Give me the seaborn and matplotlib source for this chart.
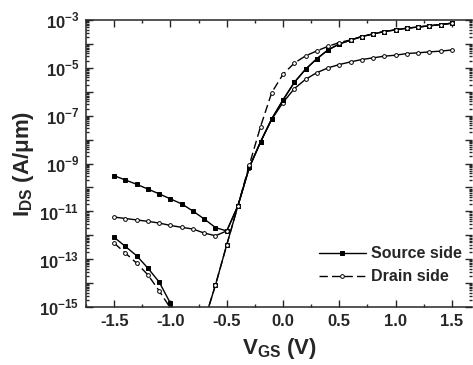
import numpy as np
import matplotlib
matplotlib.use("Agg")
import matplotlib.pyplot as plt
from matplotlib.ticker import LogLocator, FuncFormatter, MultipleLocator, NullFormatter
import seaborn as sns

# === Datos (log10 de I_DS en A/um) ===
vgs = [-1.5, -1.4, -1.3, -1.2, -1.1, -1.0, -0.9, -0.8, -0.7, -0.6, -0.5,
       -0.4, -0.3, -0.2, -0.1, 0.0, 0.1, 0.2, 0.3, 0.4, 0.5,
       0.6, 0.7, 0.8, 0.9, 1.0, 1.1, 1.2, 1.3, 1.4, 1.5]

# lado fuente, corriente de fuga alta
log_src_alto = [-9.51, -9.69, -9.87, -10.07, -10.27, -10.48, -10.69, -10.99, -11.32, -11.68, -11.82,
                -10.76, -9.16, -8.10, -7.13, -6.34, -5.61, -5.06, -4.62, -4.25, -4.00,
                -3.84, -3.69, -3.58, -3.48, -3.41, -3.34, -3.29, -3.24, -3.19, -3.13]
# lado drenador, fuga media, corriente on baja
log_drn_medio = [-11.24, -11.30, -11.36, -11.42, -11.49, -11.59, -11.67, -11.74, -11.91, -12.02, -11.82,
                 -10.76, -9.18, -8.10, -7.15, -6.45, -5.87, -5.48, -5.20, -5.00, -4.86,
                 -4.75, -4.65, -4.58, -4.51, -4.47, -4.40, -4.37, -4.33, -4.30, -4.25]
# lado fuente, fuga baja
log_src_bajo = [-12.09, -12.47, -12.86, -13.38, -13.96, -14.85, -16.00, -16.30, -15.60, -14.08, -12.40,
                -10.76, -9.16, -8.10, -7.13, -6.34, -5.61, -5.06, -4.62, -4.25, -4.00,
                -3.84, -3.69, -3.58, -3.48, -3.41, -3.34, -3.29, -3.24, -3.19, -3.13]
# lado drenador, fuga baja
log_drn_bajo = [-12.33, -12.75, -13.17, -13.66, -14.33, -15.05, -16.00, -16.30, -15.60, -14.08, -12.40,
                -10.76, -9.07, -7.46, -6.03, -5.27, -4.80, -4.50, -4.29, -4.10, -3.94,
                -3.83, -3.69, -3.58, -3.48, -3.41, -3.34, -3.29, -3.24, -3.19, -3.13]

sns.set_style("ticks")
plt.rcParams["font.family"] = ["Liberation Sans", "DejaVu Sans"]
plt.rcParams["font.weight"] = "bold"
plt.rcParams["mathtext.fontset"] = "custom"
plt.rcParams["mathtext.rm"] = "Liberation Sans:bold"
plt.rcParams["mathtext.bf"] = "Liberation Sans:bold"
plt.rcParams["axes.unicode_minus"] = False

fig = plt.figure(figsize=(4.73, 3.65), dpi=100)
ax = fig.add_axes([0.182, 0.159, 0.816, 0.786])

x = np.array(vgs)
comun = dict(ax=ax, color="k", linewidth=1.0, markersize=2.7,
             markeredgecolor="k", markeredgewidth=0.7, errorbar=None)

sns.lineplot(x=x, y=10 ** np.array(log_src_alto), marker="s",
             markerfacecolor="k", **comun)
sns.lineplot(x=x, y=10 ** np.array(log_drn_medio), marker="o",
             markerfacecolor="white", **comun)
sns.lineplot(x=x, y=10 ** np.array(log_src_bajo), marker="s",
             markerfacecolor="k", label="Source side", **comun)
sns.lineplot(x=x, y=10 ** np.array(log_drn_bajo), marker="o", linestyle=(0, (6, 3)),
             markerfacecolor="white", label="Drain side", **comun)

ax.set_yscale("log")
ax.set_xlim(-1.75, 1.68)
ax.set_ylim(1e-15, 1e-3)

ax.yaxis.set_major_locator(LogLocator(base=10, numticks=20))
ax.yaxis.set_minor_locator(LogLocator(base=10, subs=np.arange(2, 10), numticks=20))
ax.yaxis.set_minor_formatter(NullFormatter())


def fmt_y(v, pos):
    e = int(round(np.log10(v)))
    if e % 2 == 0:
        return ""
    return r"10$^{\mathbf{%d}}$" % e


ax.yaxis.set_major_formatter(FuncFormatter(fmt_y))
ax.xaxis.set_major_locator(MultipleLocator(0.5))
ax.xaxis.set_minor_locator(MultipleLocator(0.25))
ax.xaxis.set_major_formatter(FuncFormatter(lambda v, p: f"{v:.1f}"))

ax.tick_params(which="both", direction="in", top=True, right=True, width=1,
               labelsize=12)
ax.tick_params(which="major", length=5, pad=5)
ax.tick_params(which="minor", length=2.5)
for s in ax.spines.values():
    s.set_linewidth(1.1)
ax.spines["right"].set_visible(False)

ax.set_xlabel(r"V$_{\mathbf{GS}}$ (V)", fontsize=16, fontweight="bold", labelpad=5)
ax.set_ylabel(r"I$_{\mathbf{DS}}$ (A/μm)", fontsize=16, fontweight="bold", labelpad=2)

leg = ax.legend(loc="center left", bbox_to_anchor=(0.565, 0.145), frameon=False,
                fontsize=11.5, handlelength=3.0, handletextpad=0.3, labelspacing=0.5)

fig.savefig("out.png", dpi=100)
plt.close(fig)
